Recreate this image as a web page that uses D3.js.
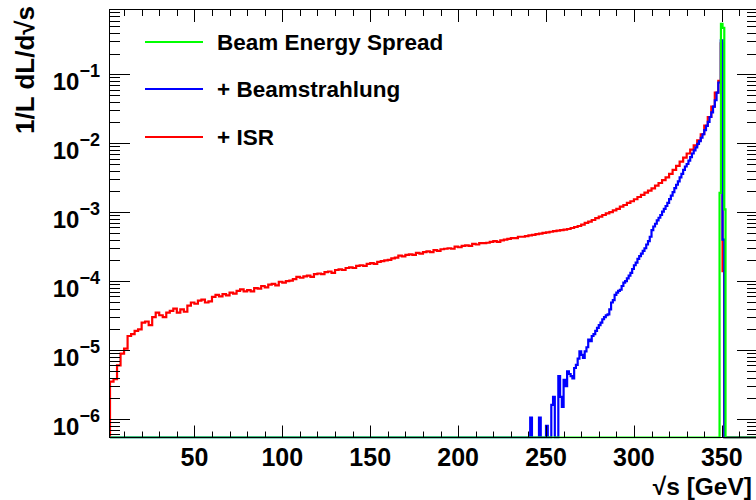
<!DOCTYPE html>
<html><head><meta charset="utf-8">
<script src="https://cdn.jsdelivr.net/npm/d3@7"></script>
<style>
body{margin:0;background:#fff}
svg{display:block}
text{font-family:"Liberation Sans",Arial,Helvetica,sans-serif;font-weight:bold;fill:#000}
</style>
</head><body>
<svg id="c" width="756" height="500"></svg>
<script>
// ---------------- data ----------------
const xDomain = [2, 370];            // sqrt(s) [GeV]
const yDomain = [5.4e-7, 0.855];     // 1/L dL/dsqrt(s)
const xTickLabels = [50, 100, 150, 200, 250, 300, 350];
const yTickExponents = [-6, -5, -4, -3, -2, -1];
const legendLabels = ["Beam Energy Spread", "+ Beamstrahlung", "+ ISR"];
const seriesColors = ["#00ff00", "#0000ff", "#ff0000"];

// + ISR : 2 GeV bins starting at 2 GeV
const isrBinStart = 2, isrBinWidth = 2;
const isrValues = [
  3.5e-6, 3.8e-6, 6.0e-6, 8.9e-6, 1.05e-5, 1.6e-5, 1.7e-5, 1.9e-5, 2.0e-5, 2.5e-5,
  2.6e-5, 2.3e-5, 3.0e-5, 3.5e-5, 3.2e-5, 3.0e-5, 3.5e-5, 3.7e-5, 4.0e-5, 3.5e-5,
  3.9e-5, 3.6e-5, 4.4e-5, 4.9e-5, 4.7e-5, 5.2e-5, 5.4e-5, 4.9e-5, 5.1e-5, 5.9e-5,
  6.3e-5, 6.0e-5, 6.5e-5, 6.2e-5, 6.8e-5, 6.6e-5, 7.2e-5, 7.6e-5, 7.1e-5, 7.4e-5,
  7.1e-5, 7.9e-5, 7.8e-5, 8.5e-5, 8.1e-5, 8.9e-5, 9.1e-5, 8.7e-5, 9.8e-5, 9.5e-5,
  1.0e-4, 1.02e-4, 1.07e-4, 1.15e-4, 1.12e-4, 1.17e-4, 1.2e-4, 1.15e-4, 1.26e-4, 1.29e-4,
  1.26e-4, 1.35e-4, 1.38e-4, 1.32e-4, 1.45e-4, 1.48e-4, 1.45e-4, 1.55e-4, 1.58e-4, 1.55e-4,
  1.66e-4, 1.7e-4, 1.66e-4, 1.78e-4, 1.82e-4, 1.78e-4, 1.9e-4, 1.95e-4, 2.0e-4, 2.04e-4,
  2.14e-4, 2.19e-4, 2.34e-4, 2.29e-4, 2.4e-4, 2.45e-4, 2.4e-4, 2.57e-4, 2.5e-4, 2.63e-4,
  2.7e-4, 2.63e-4, 2.82e-4, 2.75e-4, 2.9e-4, 2.95e-4, 3.0e-4, 2.95e-4, 3.16e-4, 3.1e-4,
  3.24e-4, 3.3e-4, 3.24e-4, 3.47e-4, 3.4e-4, 3.55e-4, 3.55e-4, 3.6e-4, 3.7e-4, 3.8e-4,
  3.7e-4, 3.9e-4, 4.0e-4, 4.1e-4, 4.2e-4, 4.2e-4, 4.4e-4, 4.4e-4, 4.5e-4, 4.6e-4,
  4.7e-4, 4.8e-4, 4.9e-4, 5.0e-4, 5.1e-4, 5.2e-4, 5.3e-4, 5.4e-4, 5.5e-4, 5.6e-4,
  5.7e-4, 5.9e-4, 6.1e-4, 6.3e-4, 6.6e-4, 7.0e-4, 7.3e-4, 7.7e-4, 8.2e-4, 8.6e-4,
  9.1e-4, 9.6e-4, 1.0e-3, 1.06e-3, 1.12e-3, 1.2e-3, 1.27e-3, 1.36e-3, 1.44e-3, 1.54e-3,
  1.66e-3, 1.78e-3, 1.92e-3, 2.06e-3, 2.22e-3, 2.42e-3, 2.65e-3, 2.92e-3, 3.2e-3, 3.6e-3,
  4.1e-3, 4.7e-3, 5.4e-3, 6.2e-3, 7.1e-3, 8.1e-3, 9.3e-3, 1.1e-2, 1.35e-2, 1.8e-2,
  2.4e-2, 3.4e-2, 5.4e-2
];
const isrTailEdges = [348, 349.4, 350.4, 351.4];
const isrTailValues = [0.08, 0.28, 1.4e-4];

// + Beamstrahlung : 1 GeV bins starting at 240 GeV
const bsBinStart = 240, bsBinWidth = 1;
const bsValues = [
  0, 1.05e-6, 0, 0, 0, 0, 1.05e-6, 0, 0, 0,
  8e-7, 0, 0, 1.6e-6, 2.1e-6, 0, 0, 4.2e-6, 2.1e-6, 1.5e-6,
  3.7e-6, 3.0e-6, 4.9e-6, 4.5e-6, 4.2e-6, 3.9e-6, 5.5e-6, 6.1e-6, 7.5e-6, 9.6e-6,
  8.5e-6, 7.7e-6, 9.6e-6, 1.1e-5, 1.42e-5, 1.35e-5, 1.6e-5, 1.7e-5, 1.9e-5, 2.1e-5,
  2.3e-5, 2.5e-5, 2.8e-5, 3.0e-5, 3.2e-5, 3.3e-5, 3.9e-5, 4.9e-5, 5.3e-5, 6.3e-5,
  6.8e-5, 7.2e-5, 7.5e-5, 8.5e-5, 9.5e-5, 1.0e-4, 1.1e-4, 1.2e-4, 1.32e-4, 1.5e-4,
  1.7e-4, 1.85e-4, 2.1e-4, 2.3e-4, 2.5e-4, 2.75e-4, 3.0e-4, 3.4e-4, 3.8e-4, 4.4e-4,
  5.5e-4, 6.2e-4, 6.8e-4, 7.6e-4, 8.3e-4, 9.1e-4, 1.02e-3, 1.12e-3, 1.23e-3, 1.36e-3,
  1.55e-3, 1.74e-3, 1.95e-3, 2.24e-3, 2.5e-3, 2.8e-3, 3.2e-3, 3.6e-3, 4.1e-3, 4.6e-3,
  5.0e-3, 5.6e-3, 6.3e-3, 7.1e-3, 7.9e-3, 8.7e-3, 9.8e-3, 1.07e-2, 1.2e-2, 1.35e-2,
  1.55e-2, 1.78e-2, 2.04e-2, 2.4e-2, 2.8e-2, 3.4e-2, 4.2e-2, 5.4e-2
];
const bsTailEdges = [348, 349.4, 350.4, 351.4];
const bsTailValues = [0.076, 0.31, 4e-4];

// Beam Energy Spread
const besEdges = [348.7, 349.5, 350.4, 351.4, 352.1];
const besValues = [1.9e-3, 0.54, 0.47, 1.1e-3];

// ---------------- drawing ----------------
const W = 756, H = 500;
const F = {left: 110, top: 10, right: 757, bottom: 437.5};
const x = d3.scaleLinear().domain(xDomain).range([F.left, F.right]);
const y = d3.scaleLog().domain(yDomain).range([F.bottom, F.top]);
const svg = d3.select("#c");
svg.append("rect").attr("width", W).attr("height", H).attr("fill", "#fff");

svg.append("clipPath").attr("id", "clip").append("rect")
  .attr("x", F.left).attr("y", F.top - 1)
  .attr("width", F.right - F.left).attr("height", F.bottom - F.top + 2);

function regularEdges(start, width, n) {
  return d3.range(n + 1).map(i => start + i * width);
}
function stepPoints(edges, values) {
  const pts = [[xDomain[0], 0], [edges[0], 0]];
  values.forEach((v, i) => { pts.push([edges[i], v]); pts.push([edges[i + 1], v]); });
  pts.push([edges[edges.length - 1], 0]);
  pts.push([xDomain[1], 0]);
  return pts;
}
const yv = v => v > 0 ? y(v) : F.bottom;
const line = d3.line().x(d => x(d[0])).y(d => yv(d[1]));

const isrEdges = regularEdges(isrBinStart, isrBinWidth, isrValues.length).slice(0, -1).concat(isrTailEdges);
const isrAll = isrValues.concat(isrTailValues);
const bsEdges = regularEdges(bsBinStart, bsBinWidth, bsValues.length).slice(0, -1).concat(bsTailEdges);
const bsAll = bsValues.concat(bsTailValues);

const g = svg.append("g").attr("clip-path", "url(#clip)");
const series = [
  {pts: stepPoints(isrEdges, isrAll), color: seriesColors[2]},
  {pts: stepPoints(bsEdges, bsAll), color: seriesColors[1]},
  {pts: stepPoints(besEdges, besValues), color: seriesColors[0]}
];
series.forEach(s => {
  g.append("path").attr("d", line(s.pts)).attr("fill", "none")
    .attr("stroke", s.color).attr("stroke-width", 2.2).attr("stroke-linejoin", "miter");
});

// frame
svg.append("rect").attr("x", F.left - 0.5).attr("y", F.top - 0.5)
  .attr("width", F.right - F.left + 1).attr("height", F.bottom - F.top + 0.5)
  .attr("fill", "none").attr("stroke", "#000").attr("stroke-width", 1);

// x ticks
const ax = svg.append("g").attr("stroke", "#000").attr("stroke-width", 1);
const xMinor = d3.range(10, xDomain[1] + 1, 10).filter(v => v % 50 !== 0);
xMinor.forEach(v => {
  const px = Math.round(x(v)) + 0.5;
  ax.append("line").attr("x1", px).attr("x2", px).attr("y1", F.bottom).attr("y2", F.bottom - 6);
  ax.append("line").attr("x1", px).attr("x2", px).attr("y1", F.top).attr("y2", F.top + 6);
});
xTickLabels.forEach(v => {
  const px = Math.round(x(v)) + 0.5;
  ax.append("line").attr("x1", px).attr("x2", px).attr("y1", F.bottom).attr("y2", F.bottom - 12);
  ax.append("line").attr("x1", px).attr("x2", px).attr("y1", F.top).attr("y2", F.top + 12);
  svg.append("text").attr("x", x(v)).attr("y", 466).attr("text-anchor", "middle")
    .attr("font-size", 25).text(v);
});

// y ticks
y.ticks().forEach(v => {
  const major = Math.abs(Math.log10(v) - Math.round(Math.log10(v))) < 1e-9;
  const len = major ? 20 : 10;
  const py = Math.round(y(v)) + 0.5;
  ax.append("line").attr("x1", F.left).attr("x2", F.left + len).attr("y1", py).attr("y2", py);
  ax.append("line").attr("x1", F.right).attr("x2", F.right - len).attr("y1", py).attr("y2", py);
});
yTickExponents.forEach(e => {
  const py = y(Math.pow(10, e));
  const t = svg.append("text").attr("x", 100).attr("y", py + 16).attr("text-anchor", "end");
  t.append("tspan").attr("font-size", 24).text("10");
  t.append("tspan").attr("font-size", 18).attr("dy", -13).text("\u2212" + Math.abs(e));
});

// axis titles
svg.append("text").attr("x", 752).attr("y", 494.5).attr("text-anchor", "end")
  .attr("font-size", 24.5).text("\u221As [GeV]");
svg.append("text").attr("transform", "translate(34,6) rotate(-90)")
  .attr("text-anchor", "end").attr("font-size", 26).text("1/L dL/d\u221As");

// legend
const legY = [42, 89, 137];
legendLabels.forEach((lab, i) => {
  svg.append("line").attr("x1", 145).attr("x2", 203).attr("y1", legY[i]).attr("y2", legY[i])
    .attr("stroke", seriesColors[i]).attr("stroke-width", 2);
  svg.append("text").attr("x", 217).attr("y", legY[i] + 8).attr("font-size", 22.5).text(lab);
});
</script>
</body></html>
